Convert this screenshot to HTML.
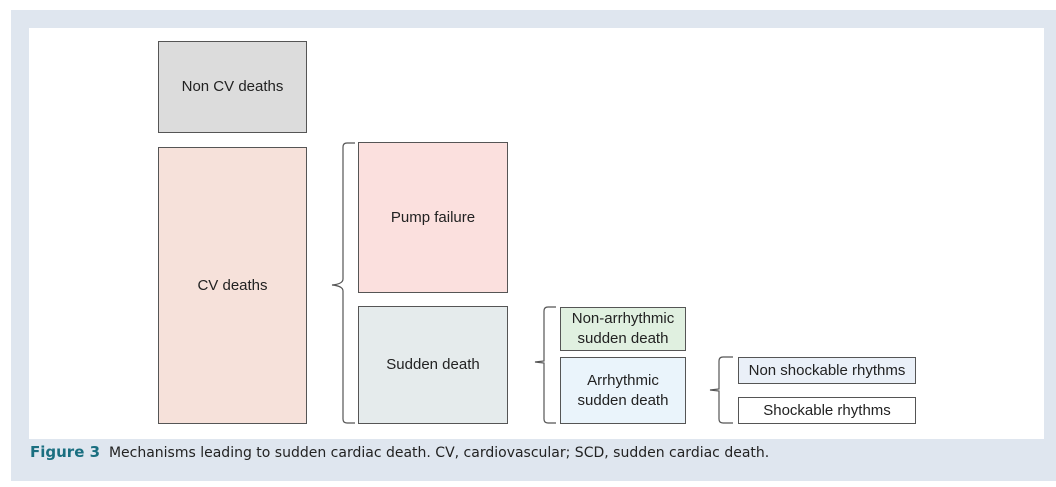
<!DOCTYPE html>
<html><head><meta charset="utf-8"><style>
body{margin:0;width:1056px;height:487px;background:#fff;position:relative;overflow:hidden;font-family:"Liberation Sans",sans-serif}
.b{position:absolute;border:1px solid #555;box-sizing:border-box;display:flex;align-items:center;justify-content:center;text-align:center;font-size:15px;color:#222;line-height:20px}
</style></head><body>
<div style="position:absolute;left:11px;top:10px;width:1045px;height:471px;background:#dfe6ef"></div>
<div style="position:absolute;left:29px;top:28px;width:1015px;height:411px;background:#fff"></div>
<div class="b" style="left:158px;top:41px;width:149px;height:92px;background:#dcdcdc">Non CV deaths</div>
<div class="b" style="left:158px;top:147px;width:149px;height:277px;background:#f6e1da">CV deaths</div>
<div class="b" style="left:358px;top:142px;width:150px;height:151px;background:#fbe0de">Pump failure</div>
<div class="b" style="left:358px;top:306px;width:150px;height:118px;background:#e5ebec">Sudden death</div>
<div class="b" style="left:560px;top:307px;width:126px;height:44px;background:#e0f0e0">Non-arrhythmic<br>sudden death</div>
<div class="b" style="left:560px;top:357px;width:126px;height:67px;background:#eaf4fb">Arrhythmic<br>sudden death</div>
<div class="b" style="left:738px;top:357px;width:178px;height:27px;background:#eaf0f8">Non shockable rhythms</div>
<div class="b" style="left:738px;top:397px;width:178px;height:27px;background:#fff">Shockable rhythms</div>
<svg style="position:absolute;left:0;top:0" width="1056" height="487" fill="none" stroke="#555" stroke-width="1.2">
<path d="M355,143 H347 Q343,143 343,147 V279 Q343,284 332,285 Q343,286 343,291 V419 Q343,423 347,423 H355"/>
<path d="M556,307 H548 Q544,307 544,311 V361 L535,362 L544,363 V419 Q544,423 548,423 H556"/>
<path d="M733,357 H723 Q719,357 719,361 V389 L710,390 L719,391 V419 Q719,423 723,423 H733"/>
</svg>
<div style="position:absolute;left:30px;top:443px;font-family:'DejaVu Sans','Liberation Sans',sans-serif;font-size:14px;color:#222;white-space:nowrap"><b style="color:#1a6f80;font-size:15px">Figure 3</b>&nbsp; Mechanisms leading to sudden cardiac death. CV, cardiovascular; SCD, sudden cardiac death.</div>
</body></html>
